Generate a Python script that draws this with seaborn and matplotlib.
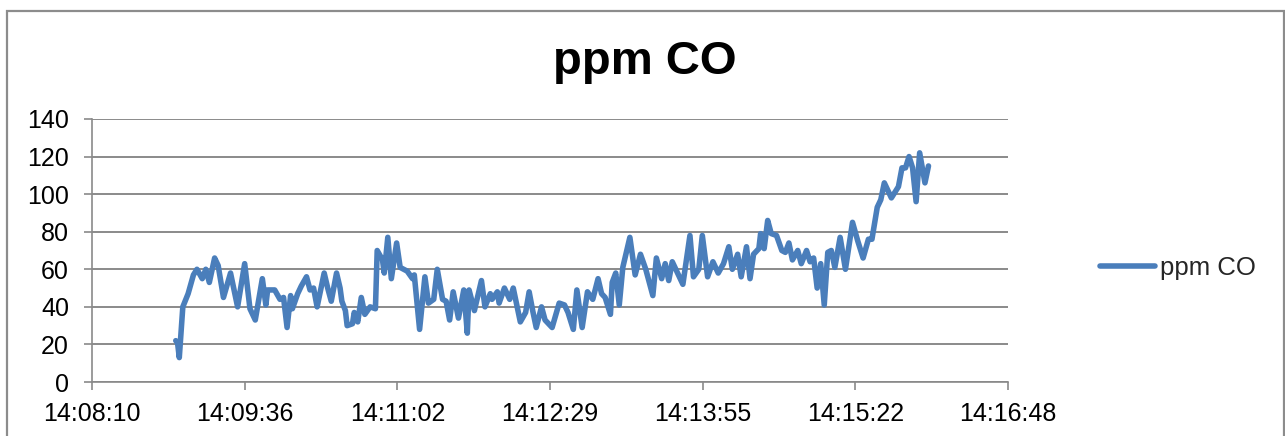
import matplotlib
matplotlib.use("Agg")
import matplotlib.pyplot as plt
from matplotlib.patches import Rectangle
import seaborn as sns
import pandas as pd

# seconds after 14:08:00
t_sec = [57, 58, 59, 61, 64, 67, 69, 72, 74, 76, 79, 81, 84, 88, 92, 96, 99, 102,
         106, 108, 109, 113, 116, 118, 120, 122, 123, 126, 128, 131, 133, 135, 137,
         141, 143, 145, 148, 150, 151, 153, 154, 157, 158, 160, 162, 164, 167, 170,
         171, 174, 175, 177, 179, 182, 184, 188, 191, 192, 195, 198, 200, 203, 205,
         208, 210, 212, 214, 217, 220, 222, 223, 226, 230, 232, 235, 236, 239, 240,
         243, 246, 248, 252, 255, 257, 259, 261, 264, 266, 270, 274, 277, 279, 282,
         284, 287, 290, 293, 296, 298, 300, 303, 304, 306, 308, 310, 314, 317, 320,
         323, 327, 329, 332, 334, 336, 338, 341, 344, 348, 350, 353, 355, 358, 361,
         364, 367, 370, 372, 375, 377, 380, 382, 384, 387, 388, 390, 392, 394, 397,
         400, 402, 404, 406, 409, 411, 414, 416, 418, 420, 422, 424, 426, 428, 430,
         433, 436, 440, 443, 446, 449, 451, 454, 456, 458, 460, 462, 466, 468, 470,
         472, 474, 476, 478, 481, 483]
ppm_co = [22, 21, 13, 40, 47, 57, 60, 55, 60, 53, 66, 62, 45, 58, 40, 63, 39, 33,
          55, 41, 49, 49, 44, 45, 29, 46, 39, 47, 51, 56, 49, 50, 40,
          58, 50, 43, 58, 50, 43, 38, 30, 31, 37, 32, 45, 36, 40, 39,
          70, 65, 58, 77, 55, 74, 61, 59, 55, 57, 28, 56, 42, 44, 60,
          44, 43, 33, 48, 34, 49, 26, 49, 38, 54, 40, 47, 44, 48, 42,
          50, 44, 50, 32, 37, 48, 38, 29, 40, 33, 29, 42, 41, 37, 28,
          49, 29, 48, 44, 55, 47, 45, 36, 53, 58, 41, 61, 77, 57, 68,
          60, 46, 66, 55, 63, 54, 64, 58, 52, 78, 56, 60, 78, 56, 64,
          58, 63, 72, 60, 68, 56, 72, 55, 68, 71, 79, 71, 86, 79, 78,
          70, 69, 74, 65, 70, 63, 70, 64, 66, 50, 63, 41, 69, 70, 61,
          77, 60, 85, 75, 66, 76, 76, 93, 97, 106, 102, 98, 104, 114, 114,
          120, 114, 96, 122, 106, 115]

x_start = 9.6          # 14:08:09.6
x_step = 86.4          # 0.001 day
x_ticklabels = ["14:08:10", "14:09:36", "14:11:02", "14:12:29",
                "14:13:55", "14:15:22", "14:16:48"]
y_ticks = [0, 20, 40, 60, 80, 100, 120, 140]
series_name = "ppm CO"

df = pd.DataFrame({"t": t_sec, "v": ppm_co, "series": series_name})

sns.set_theme(style="white")
plt.rcParams["font.family"] = ["Liberation Sans", "DejaVu Sans"]

W, H = 1285, 436
fig = plt.figure(figsize=(W / 100, H / 100), dpi=100)
ax = fig.add_axes([92 / W, 1 - 382 / H, (1008 - 92) / W, (382 - 119) / H])

grid_c = "#8a8a8a"
line_c = "#4a7ebb"

sns.lineplot(data=df, x="t", y="v", hue="series", palette=[line_c],
             linewidth=4.0, ax=ax, legend=True, sort=False)
for ln in ax.lines:
    ln.set_solid_joinstyle("round")
    ln.set_solid_capstyle("round")

xt = [x_start + i * x_step for i in range(len(x_ticklabels))]
ax.set_xlim(xt[0], xt[-1])
ax.set_ylim(0, 140)
ax.set_xticks(xt)
ax.set_xticklabels(x_ticklabels)
ax.set_yticks(y_ticks)
ax.set_yticklabels([str(v) for v in y_ticks])
ax.set_xlabel("")
ax.set_ylabel("")

ax.yaxis.grid(True, color=grid_c, linewidth=1.4)
ax.xaxis.grid(False)
ax.set_axisbelow(True)
for s in ["top", "right"]:
    ax.spines[s].set_visible(False)
for s in ["left", "bottom"]:
    ax.spines[s].set_color(grid_c)
    ax.spines[s].set_linewidth(1.2)
ax.tick_params(axis="both", which="major", direction="out", length=5.5,
               width=1.2, color=grid_c, labelsize=18, labelcolor="black",
               left=True, bottom=True)
ax.tick_params(axis="x", pad=9)
ax.tick_params(axis="y", pad=11)

fig.text(645 / W, 1 - 62 / H, "ppm CO", ha="center", va="center",
         fontsize=34, fontweight="bold", color="black")

leg = ax.legend(loc="center left", bbox_to_anchor=(1100 / W, 1 - 268 / H),
                bbox_transform=fig.transFigure, frameon=False, fontsize=18.5,
                handlelength=2.15, handletextpad=0.2, borderpad=0,
                borderaxespad=0, title=None)
for h in leg.get_lines():
    h.set_linewidth(4.0)
    h.set_solid_capstyle("round")

fig.patches.append(Rectangle((7 / W, -0.05), (1284 - 7) / W, 1.05 - 11 / H,
                             transform=fig.transFigure, fill=False,
                             edgecolor="#8c8c8c", linewidth=1.6))

fig.savefig("out.png", dpi=100, facecolor="white")
